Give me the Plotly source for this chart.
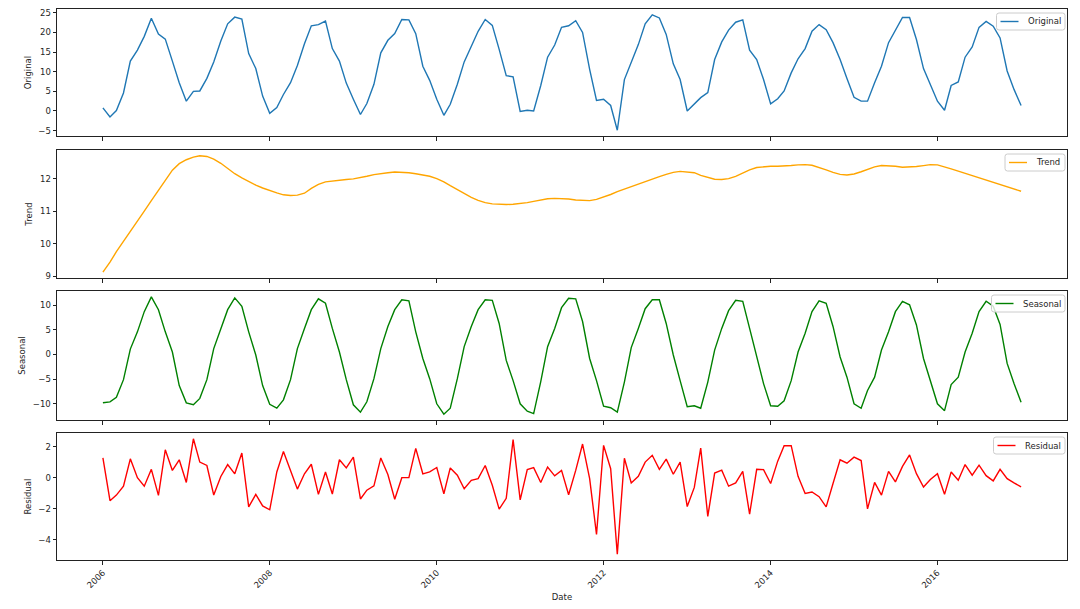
import pandas as pd
import plotly.graph_objects as go

dates = pd.date_range("2006-01-01", periods=133, freq="MS")

original = [
    0.8, -1.5, 0.1, 4.6, 12.7, 15.5, 19.0, 23.6, 19.6, 18.3,
    12.7, 7.2, 2.5, 5.0, 5.1, 8.3, 12.5, 17.8, 22.2, 23.9,
    23.4, 14.6, 10.8, 3.8, -0.6, 0.9, 4.2, 7.2, 11.6, 17.1,
    21.7, 22.0, 22.9, 15.9, 12.7, 7.1, 3.0, -0.9, 1.9, 6.8,
    14.8, 18.0, 19.7, 23.3, 23.2, 19.7, 11.4, 7.8, 3.0, -1.1,
    1.7, 6.8, 12.5, 16.7, 20.3, 23.3, 21.8, 15.7, 9.0, 8.7,
    -0.1, 0.2, 0.0, 6.5, 13.7, 16.8, 21.3, 21.7, 23.0, 20.0,
    10.6, 2.7, 3.0, 1.4, -4.9, 8.0, 12.5, 16.9, 22.2, 24.5,
    23.7, 19.5, 12.0, 8.0, 0.0, 1.7, 3.4, 4.7, 13.1, 17.6,
    20.6, 22.6, 23.2, 15.5, 13.1, 8.0, 1.8, 3.1, 5.1, 9.7,
    13.3, 15.9, 20.3, 22.0, 20.7, 17.4, 13.1, 8.3, 3.5, 2.5,
    2.5, 7.2, 11.4, 17.4, 20.7, 23.8, 23.8, 18.2, 10.8, 6.8,
    2.5, 0.2, 6.5, 7.4, 13.7, 16.3, 21.3, 22.8, 21.6, 18.6,
    10.2, 5.5, 1.4,
]

trend = [
    9.12, 9.43, 9.75, 10.06, 10.38, 10.69, 11.0, 11.32, 11.63, 11.95,
    12.26, 12.46, 12.58, 12.66, 12.7, 12.68, 12.6, 12.47, 12.3, 12.15,
    12.02, 11.9, 11.8, 11.71, 11.63, 11.56, 11.5, 11.48, 11.49, 11.55,
    11.7, 11.82, 11.9, 11.93, 11.95, 11.97, 11.99, 12.02, 12.07, 12.12,
    12.16, 12.18, 12.2, 12.2, 12.18, 12.15, 12.12, 12.07, 12.0, 11.9,
    11.78, 11.65, 11.53, 11.42, 11.33, 11.26, 11.22, 11.2, 11.2, 11.21,
    11.23, 11.26, 11.3, 11.34, 11.38, 11.39, 11.39, 11.37, 11.34, 11.32,
    11.32, 11.36, 11.43, 11.51, 11.6, 11.68, 11.76, 11.84, 11.92, 12.0,
    12.06, 12.13, 12.19, 12.22, 12.21, 12.18, 12.1, 12.03, 11.98, 11.97,
    12.0, 12.07, 12.17, 12.27, 12.34, 12.37, 12.38, 12.38, 12.38, 12.4,
    12.42, 12.43, 12.41, 12.35, 12.27, 12.19, 12.13, 12.11, 12.14, 12.21,
    12.29, 12.36, 12.4, 12.4, 12.38, 12.35, 12.35, 12.37, 12.4, 12.43,
    12.42, 12.37, 12.3, 12.23, 12.16, 12.09, 12.02, 11.95, 11.88, 11.81,
    11.74, 11.67, 11.61,
]

seasonal = [
    -9.8, -9.6, -8.7, -5.1, 1.1, 4.6, 8.7, 11.7, 9.1, 4.6,
    0.5, -6.3, -9.8, -10.2, -8.9, -5.1, 1.2, 5.0, 9.1, 11.5,
    9.8, 4.6, -0.1, -6.3, -10.1, -10.9, -9.2, -5.1, 1.2, 5.3,
    9.1, 11.3, 10.4, 5.3, 0.5, -5.1, -10.2, -11.7, -9.6, -4.9,
    1.2, 5.7, 9.1, 11.1, 10.9, 4.6, -0.8, -4.9, -10.0, -12.1,
    -10.9, -4.9, 1.6, 5.7, 9.1, 11.1, 11.0, 6.3, -1.2, -5.3,
    -10.0, -11.5, -12.0, -5.5, 1.6, 5.3, 9.5, 11.4, 11.3, 6.7,
    -0.8, -5.3, -10.5, -10.8, -11.7, -5.6, 1.4, 5.3, 9.3, 11.1,
    11.1, 6.3, -0.1, -5.3, -10.6, -10.4, -10.9, -5.6, 0.9, 5.3,
    8.9, 11.0, 10.8, 5.3, -0.1, -5.9, -10.4, -10.5, -9.4, -5.3,
    0.5, 4.3, 8.7, 10.9, 10.4, 5.7, -0.5, -4.6, -10.0, -10.9,
    -7.3, -4.6, 0.9, 4.6, 8.7, 10.8, 10.1, 6.0, -0.8, -5.3,
    -10.0, -11.4, -6.1, -4.6, 0.5, 4.3, 8.7, 10.8, 9.8, 6.1,
    -1.8, -5.9, -9.7,
]

residual = [
    1.29, -1.48, -1.12, -0.54, 1.23, 0.01, -0.54, 0.55, -1.14, 1.82,
    0.48, 1.17, -0.30, 2.53, 1.02, 0.80, -1.12, 0.09, 0.86, 0.26,
    1.61, -1.88, -1.07, -1.82, -2.07, 0.38, 1.70, 0.53, -0.73, 0.26,
    0.88, -1.07, 0.38, -1.05, 1.17, 0.64, 1.34, -1.37, -0.80, -0.52,
    1.29, 0.21, -1.39, 0.01, 0.01, 1.91, 0.26, 0.38, 0.67, -1.03,
    0.64, 0.17, -0.71, -0.16, -0.05, 0.80, -0.48, -2.03, -1.33, 2.47,
    -1.43, 0.53, 0.66, -0.30, 0.70, 0.13, 0.48, -1.10, 0.48, 2.19,
    -0.05, -3.67, 2.10, 0.59, -4.95, 1.27, -0.33, 0.10, 1.02, 1.46,
    0.55, 1.21, 0.23, 1.02, -1.86, -0.62, 1.93, -2.50, 0.31, 0.50,
    -0.54, -0.33, 0.42, -2.35, 0.55, 0.53, -0.37, 1.08, 2.08, 2.08,
    0.10, -1.01, -0.92, -1.22, -1.88, -0.37, 1.17, 0.95, 1.34, 1.12,
    -2.01, -0.30, -1.12, 0.42, -0.26, 0.74, 1.48, 0.27, -0.60, -0.11,
    0.27, -1.07, 0.38, -0.16, 0.86, 0.17, 0.82, 0.14, -0.20, 0.55,
    -0.05, -0.33, -0.58,
]

panel_names = ["Original", "Trend", "Seasonal", "Residual"]
panel_colors = ["#1f77b4", "#FFA500", "#008000", "#FF0000"]
panel_ticks = [[-5, 0, 5, 10, 15, 20, 25], [9, 10, 11, 12], [-10, -5, 0, 5, 10], [-4, -2, 0, 2]]
year_ticks = ["2006", "2008", "2010", "2012", "2014", "2016"]
# approximate rendered label widths (px) used to size the legend boxes
label_px = {"Original": 33.5, "Trend": 25.0, "Seasonal": 38.5, "Residual": 36.5}

W, H = 1080, 609
ML, MR, MT, MB = 57, 13, 9, 49
plot_w = W - ML - MR
plot_h = H - MT - MB
panel_px = [(9, 136), (150, 278), (291, 420), (433, 560)]

FONT = "DejaVu Sans"
FS = 8.5
AX = "#222222"
TXT = "#262626"


def px_x(p):
    return (p - ML) / plot_w


def px_y(p):
    return (H - MB - p) / plot_h


span = dates[-1] - dates[0]
x0 = dates[0] - span * 0.05
x1 = dates[-1] + span * 0.05

fig = go.Figure()
series = [original, trend, seasonal, residual]
shapes = []
annotations = []
for k in range(4):
    sfx = "" if k == 0 else str(k + 1)
    vals = series[k]
    fig.add_trace(go.Scatter(
        x=dates, y=vals, mode="lines", name=panel_names[k],
        line=dict(color=panel_colors[k], width=1.4),
        xaxis="x" + sfx, yaxis="y" + sfx, showlegend=False,
    ))
    a, b = panel_px[k]
    dom = [px_y(b), px_y(a)]
    vmin, vmax = min(vals), max(vals)
    pad = (vmax - vmin) * 0.05
    fig.update_layout(**{
        "xaxis" + sfx: dict(
            domain=[0, 1], anchor="y" + sfx, type="date",
            range=[x0, x1], tickvals=[f"{y}-01-01" for y in year_ticks],
            ticktext=year_ticks, showticklabels=(k == 3), tickangle=-45,
            ticks="outside", ticklen=3.5, tickwidth=0.8, tickcolor=AX,
            showline=True, linecolor=AX, linewidth=1, mirror=True,
            showgrid=False, zeroline=False, automargin=False,
            tickfont=dict(family=FONT, size=FS, color=TXT),
            matches=None if k == 0 else "x",
            title=dict(text="Date", font=dict(family=FONT, size=FS, color=TXT), standoff=4) if k == 3 else None,
        ),
        "yaxis" + sfx: dict(
            domain=dom, anchor="x" + sfx, range=[vmin - pad, vmax + pad],
            tickvals=panel_ticks[k], ticks="outside", ticklen=3.5, tickwidth=0.8,
            tickcolor=AX, showline=True, linecolor=AX, linewidth=1, mirror=True,
            showgrid=False, zeroline=False, automargin=False,
            tickfont=dict(family=FONT, size=FS, color=TXT),
            title=dict(text=panel_names[k], font=dict(family=FONT, size=FS, color=TXT), standoff=5),
        ),
    })

    # legend box in the upper right corner of the panel (matplotlib style)
    right = W - MR - 2
    top = a + 4
    bottom = a + 21
    left = right - (5 + label_px[panel_names[k]] + 8 + 18 + 4)
    r = 2.5
    xl, xr = px_x(left), px_x(right)
    yt, yb = px_y(top), px_y(bottom)
    rx = r / plot_w
    ry = r / plot_h
    path = (f"M {xl + rx} {yt} L {xr - rx} {yt} Q {xr} {yt} {xr} {yt - ry} "
            f"L {xr} {yb + ry} Q {xr} {yb} {xr - rx} {yb} L {xl + rx} {yb} "
            f"Q {xl} {yb} {xl} {yb + ry} L {xl} {yt - ry} Q {xl} {yt} {xl + rx} {yt} Z")
    shapes.append(dict(type="path", xref="paper", yref="paper", path=path,
                       fillcolor="rgba(255,255,255,0.8)",
                       line=dict(color="#cccccc", width=1), layer="above"))
    ymid = px_y((top + bottom) / 2)
    shapes.append(dict(type="line", xref="paper", yref="paper",
                       x0=px_x(left + 4), x1=px_x(left + 22), y0=ymid, y1=ymid,
                       line=dict(color=panel_colors[k], width=1.4), layer="above"))
    annotations.append(dict(xref="paper", yref="paper", x=px_x(left + 29), y=ymid,
                            xanchor="left", yanchor="middle", showarrow=False,
                            text=panel_names[k],
                            font=dict(family=FONT, size=FS, color=TXT)))

fig.update_layout(
    width=W, height=H, margin=dict(l=ML, r=MR, t=MT, b=MB),
    paper_bgcolor="white", plot_bgcolor="white",
    font=dict(family=FONT, size=FS, color=TXT),
    showlegend=False, shapes=shapes, annotations=annotations,
)

fig.write_html("out.html")
